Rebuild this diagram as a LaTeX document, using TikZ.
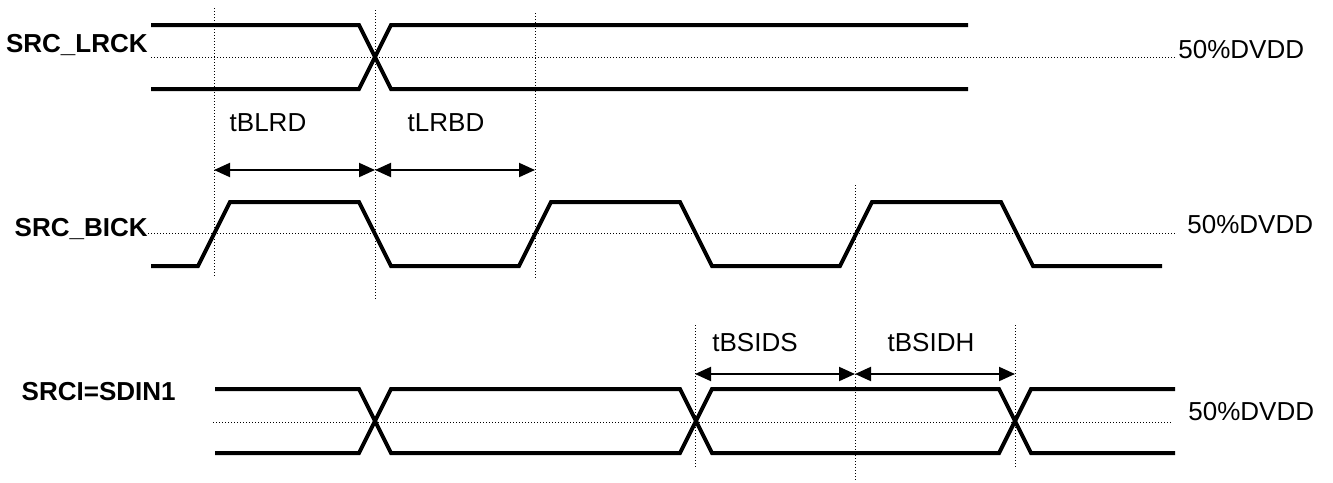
\documentclass[tikz,border=0pt]{standalone}
\usepackage{fontspec}
\setmainfont{Liberation Sans}
\usetikzlibrary{arrows.meta, positioning, calc}

\begin{document}
\begin{tikzpicture}[x=0.5pt, y=-0.5pt,
        signal/.style={line width=2pt, line join=miter},
        guide/.style={line width=0.5pt, dash pattern=on 0.5pt off 1pt},
        timing/.style={line width=1pt, {Triangle[length=8pt,width=7pt]}-{Triangle[length=8pt,width=7pt]}},
        signame/.style={font=\fontsize{13pt}{15pt}\selectfont\bfseries, inner sep=0pt, anchor=east},
        level/.style={font=\fontsize{13pt}{15pt}\selectfont, inner sep=0pt, anchor=west},
        tlabel/.style={font=\fontsize{13pt}{15pt}\selectfont, inner sep=0pt}]
    \useasboundingbox (0,0) rectangle (1333,482);

    % signal names and 50% levels
    \node[signame] (lrck) at (148,45) {SRC\_LRCK};
    \node[signame] (bick) at (148,229) {SRC\_BICK};
    \node[signame] (sdin) at (176,392) {SRCI=SDIN1};
    \node[level] (lrckvdd) at (1178,50) {50\%DVDD};
    \node[level] (bickvdd) at (1187,225) {50\%DVDD};
    \node[level] (sdinvdd) at (1188,412) {50\%DVDD};

    \coordinate (lrckmidA) at (151,57);  \coordinate (lrckmidB) at (1175,57);
    \coordinate (bickmidA) at (148,233); \coordinate (bickmidB) at (1176,233);
    \coordinate (sdinmidA) at (213,422); \coordinate (sdinmidB) at (1173,422);
    \draw[guide] (lrckmidA) -- (lrckmidB);
    \draw[guide] (bickmidA) -- (bickmidB);
    \draw[guide] (sdinmidA) -- (sdinmidB);

    % SRC_LRCK
    \draw[signal] (151,25) -- (359,25) -- (391,89) -- (968,89);
    \draw[signal] (151,89) -- (359,89) -- (391,25) -- (968,25);
    \draw[line width=2.3pt] (503,25) -- (535,25) (503,89) -- (535,89);

    % SRC_BICK
    \draw[signal] (151,266) foreach \p in {0,321,642} {
        -- (198+\p,266) -- (230+\p,202) -- (359+\p,202) -- (391+\p,266)
    } -- (1162,266);

    % SRCI=SDIN1
    \draw[signal] (215,389) -- (359,389) -- (391,453) -- (680,453) -- (712,389)
        -- (999,389) -- (1031,453) -- (1175,453);
    \draw[signal] (215,453) -- (359,453) -- (391,389) -- (680,389) -- (712,453)
        -- (999,453) -- (1031,389) -- (1175,389);

    % timing marks
    \coordinate (mA) at (214,8);   \coordinate (mA') at (214,278);
    \coordinate (mB) at (375,10);  \coordinate (mB') at (375,300);
    \coordinate (mC) at (535,13);  \coordinate (mC') at (535,280);
    \coordinate (mD) at (695,325); \coordinate (mD') at (695,467);
    \coordinate (mE) at (855,185); \coordinate (mE') at (855,482);
    \coordinate (mF) at (1015,325); \coordinate (mF') at (1015,467);
    \foreach \m in {mA,mB,mC,mD,mE,mF}
        \draw[guide] (\m) -- (\m');

    \coordinate (tA) at (214,170); \coordinate (tB) at (375,170); \coordinate (tC) at (535,170);
    \coordinate (tD) at (695,374); \coordinate (tE) at (855,374); \coordinate (tF) at (1015,374);
    \draw[timing] (tA) -- (tB);
    \draw[timing] (tB) -- (tC);
    \draw[timing] (tD) -- (tE);
    \draw[timing] (tE) -- (tF);

    \node[tlabel] (blrd) at (268,123) {tBLRD};
    \node[tlabel] (lrbd) at (446,123) {tLRBD};
    \node[tlabel] (bsids) at (755,343) {tBSIDS};
    \node[tlabel] (bsidh) at (931,343) {tBSIDH};
\end{tikzpicture}
\end{document}
